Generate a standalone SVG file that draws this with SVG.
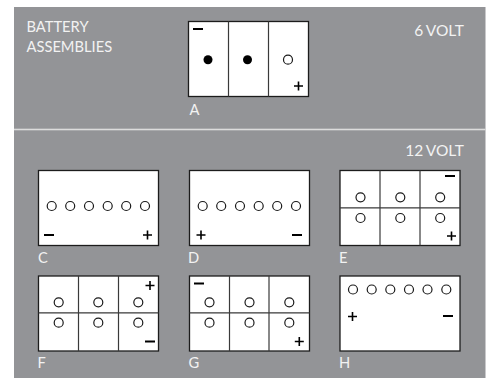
<svg xmlns="http://www.w3.org/2000/svg" width="489" height="378" viewBox="0 0 489 378">
<defs>
<style>
.b{fill:#fff;stroke:#1c1c1c;stroke-width:1.3}
.d{stroke:#3a3a3a;stroke-width:1.2;fill:none}
.o{fill:#fff;stroke:#1a1a1a;stroke-width:1.2}
.f{fill:#000}
.t{font-family:"Lato","Open Sans",sans-serif;font-size:14.700px;fill:#f2f2f2}
.v{font-size:15.500px;word-spacing:-1px}
.p{stroke:#000;stroke-width:1.6;fill:none}
.m{stroke:#000;stroke-width:2;fill:none}
</style>
<path id="plus" class="p" d="M-4.500 0H4.500M0-4.500V4.500"/>
<path id="minus" class="m" d="M-5 0H5"/>
<circle id="c" class="o" r="4.500"/>
</defs>
<rect x="14" y="7" width="471.500" height="371" fill="#939497"/>
<rect x="14" y="128.700" width="471.500" height="1.600" fill="#dcdcdc"/>
<g id="titles">
<text class="t" x="26.500" y="32">BATTERY</text>
<text class="t" x="26.500" y="52">ASSEMBLIES</text>
<text class="t v" x="464" y="36" text-anchor="end">6 VOLT</text>
<text class="t v" x="464" y="156" text-anchor="end">12 VOLT</text>
</g>
<g id="A">
<rect class="b" x="188.500" y="21.500" width="120" height="75"/>
<path class="d" d="M228.500 21.500V96.500M268.500 21.500V96.500"/>
<circle class="f" cx="208" cy="59.700" r="4.500"/><circle class="f" cx="247.500" cy="59.700" r="4.500"/>
<use href="#c" x="288" y="59.700"/>
<use href="#minus" x="198" y="29"/><use href="#plus" x="298.500" y="86"/>
<text class="t" x="189.500" y="114.500">A</text>
</g>
<g id="C">
<rect class="b" x="38.500" y="170.500" width="120" height="75"/>
<use href="#c" x="51.700" y="206"/><use href="#c" x="70.200" y="206"/><use href="#c" x="89" y="206"/><use href="#c" x="107.700" y="206"/><use href="#c" x="126.200" y="206"/><use href="#c" x="145" y="206"/>
<use href="#minus" x="49" y="235"/><use href="#plus" x="147.500" y="235"/>
<text class="t" x="38" y="262.500">C</text>
</g>
<g id="D">
<rect class="b" x="189.500" y="170.500" width="120" height="75"/>
<use href="#c" x="202.700" y="206"/><use href="#c" x="221.200" y="206"/><use href="#c" x="240" y="206"/><use href="#c" x="258.700" y="206"/><use href="#c" x="277.200" y="206"/><use href="#c" x="296" y="206"/>
<use href="#plus" x="201" y="235"/><use href="#minus" x="297" y="235"/>
<text class="t" x="188" y="262.500">D</text>
</g>
<g id="E">
<rect class="b" x="340" y="170.500" width="120" height="75"/>
<path class="d" d="M380 170.500V245.500M420 170.500V245.500M340 207.800H460"/>
<use href="#c" x="360.500" y="197.300"/><use href="#c" x="400.300" y="197.300"/><use href="#c" x="440.200" y="197.300"/>
<use href="#c" x="360.500" y="218"/><use href="#c" x="400.300" y="218"/><use href="#c" x="440.200" y="218"/>
<use href="#minus" x="450" y="176"/><use href="#plus" x="451.500" y="236"/>
<text class="t" x="339" y="262.500">E</text>
</g>
<g id="F">
<rect class="b" x="38.500" y="276" width="120" height="75"/>
<path class="d" d="M78.500 276V351M118.500 276V351M38.500 312.800H158.500"/>
<use href="#c" x="58.700" y="302.300"/><use href="#c" x="98.300" y="302.300"/><use href="#c" x="138.300" y="302.300"/>
<use href="#c" x="58.700" y="322.700"/><use href="#c" x="98.300" y="322.700"/><use href="#c" x="138.300" y="322.700"/>
<use href="#plus" x="150" y="285.500"/><use href="#minus" x="150" y="341.500"/>
<text class="t" x="37.500" y="367.500">F</text>
</g>
<g id="G">
<rect class="b" x="189.500" y="276" width="120" height="75"/>
<path class="d" d="M229.500 276V351M269 276V351M189.500 312.800H309.500"/>
<use href="#c" x="209.500" y="302.300"/><use href="#c" x="249.500" y="302.300"/><use href="#c" x="289.300" y="302.300"/>
<use href="#c" x="209.500" y="322.700"/><use href="#c" x="249.500" y="322.700"/><use href="#c" x="289.300" y="322.700"/>
<use href="#minus" x="199" y="283.500"/><use href="#plus" x="299.300" y="341.500"/>
<text class="t" x="188.500" y="367.500">G</text>
</g>
<g id="H">
<rect class="b" x="340" y="276" width="120" height="75"/>
<use href="#c" x="353" y="289.500"/><use href="#c" x="371.700" y="289.500"/><use href="#c" x="390.300" y="289.500"/><use href="#c" x="409" y="289.500"/><use href="#c" x="427.500" y="289.500"/><use href="#c" x="446.300" y="289.500"/>
<use href="#plus" x="352.500" y="316.500"/><use href="#minus" x="448" y="316"/>
<text class="t" x="339" y="367.500">H</text>
</g>
<g id="connectors"/>
</svg>
